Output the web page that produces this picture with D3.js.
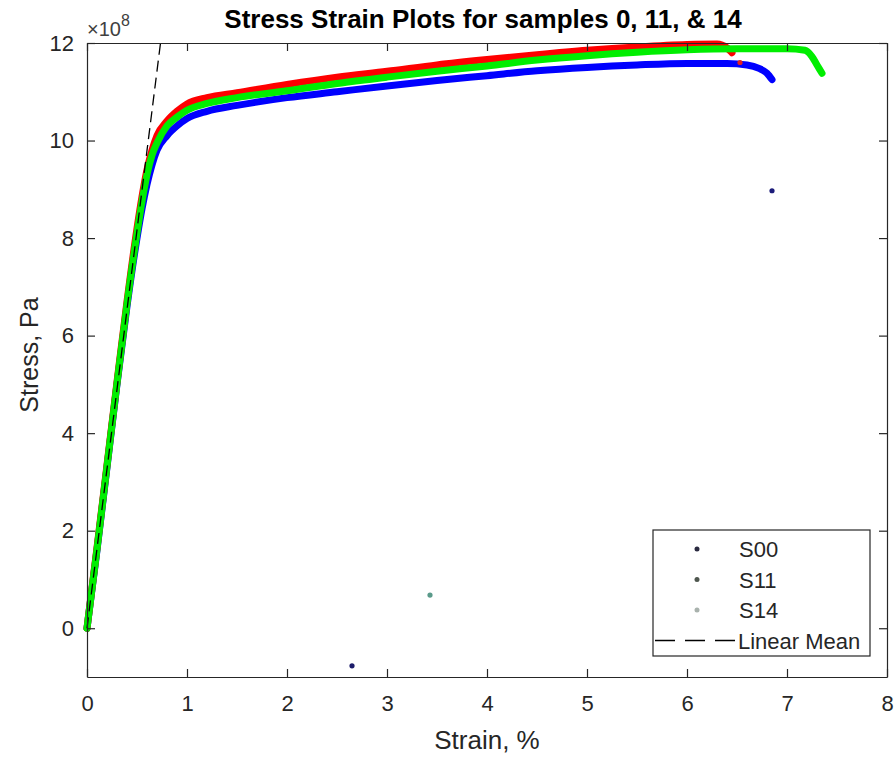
<!DOCTYPE html>
<html><head><meta charset="utf-8">
<script src="https://cdn.jsdelivr.net/npm/d3@7"></script>
<style>body{margin:0;background:#fff}svg{display:block}text{font-family:"Liberation Sans",Arial,sans-serif}</style>
</head><body>
<script>
// strain (%) and stress (x1e8 Pa)
const s00Strain = [0,0.1,0.2,0.3,0.4,0.5,0.55,0.6,0.65,0.7,0.8,0.9,1.0,1.2,1.5,2,2.5,3,3.5,4,4.5,5,5.5,6,6.4,6.6,6.72,6.8,6.85];
const s00Stress = [0,1.6,3.3,5.0,6.6,8.0,8.6,9.1,9.5,9.8,10.1,10.3,10.45,10.6,10.72,10.88,11.0,11.12,11.23,11.33,11.43,11.5,11.55,11.58,11.58,11.55,11.48,11.38,11.25];
const s11Strain = [0,0.1,0.2,0.3,0.4,0.5,0.55,0.6,0.65,0.7,0.8,0.9,1.0,1.2,1.5,2,2.5,3,3.5,4,4.5,5,5.5,6,6.3,6.4,6.45];
const s11Stress = [0,1.65,3.35,5.05,6.7,8.2,8.85,9.4,9.8,10.1,10.4,10.6,10.75,10.88,10.98,11.15,11.3,11.42,11.55,11.66,11.76,11.85,11.92,11.97,11.98,11.9,11.8];
const s14Strain = [0,0.1,0.2,0.3,0.4,0.5,0.55,0.6,0.65,0.7,0.8,0.9,1.0,1.2,1.5,2,2.5,3,3.5,4,4.5,5,5.5,6,6.5,7,7.18,7.25,7.3,7.35];
const s14Stress = [0,1.62,3.32,5.02,6.65,8.1,8.75,9.3,9.7,9.95,10.3,10.48,10.62,10.76,10.88,11.02,11.17,11.3,11.42,11.53,11.65,11.74,11.81,11.86,11.88,11.88,11.85,11.72,11.55,11.38];
const strayStrain = [6.85, 2.65, 3.43, 6.53];
const strayStress = [8.97, -0.77, 0.68, 11.6];
const strayColor = ["#1c1c7a", "#1c1c6a", "#5a9a8a", "#e02020"];
const meanStrain = [0, 0.735];
const meanStress = [0, 12];
const xTicks = [0,1,2,3,4,5,6,7,8];
const yTicks = [0,2,4,6,8,10,12];
const legendLabels = ["S00","S11","S14","Linear Mean"];
const legendColors = ["#2a2a40","#4e564e","#a9b2ad","#000"];

const W = 895, H = 757;
const m = {l:87, r:887, t:43, b:677};
const x = d3.scaleLinear().domain([0,8]).range([m.l, m.r]);
const y = d3.scaleLinear().domain([-1,12]).range([m.b, m.t]);
const svg = d3.select("body").append("svg").attr("width", W).attr("height", H);
const axisCol = "#262626";

svg.append("clipPath").attr("id","c").append("rect")
  .attr("x", m.l-4).attr("y", m.t-4).attr("width", m.r-m.l+8).attr("height", m.b-m.t+8);

const line = d3.line().x(d=>x(d[0])).y(d=>y(d[1]));
const g = svg.append("g").attr("clip-path","url(#c)");
const series = [
  [s00Strain, s00Stress, "#0000ff"],
  [s11Strain, s11Stress, "#ff0000"],
  [s14Strain, s14Stress, "#00ee00"]
];
series.forEach(([xs, ys, c]) => {
  g.append("path").datum(xs.map((v,i)=>[v, ys[i]]))
    .attr("d", line.curve(d3.curveMonotoneX)).attr("fill","none").attr("stroke", c)
    .attr("stroke-width", 7).attr("stroke-linecap","round").attr("stroke-linejoin","round");
});
strayStrain.forEach((v,i) => {
  g.append("circle").attr("cx", x(v)).attr("cy", y(strayStress[i])).attr("r", 2.6).attr("fill", strayColor[i]);
});
g.append("path").datum(meanStrain.map((v,i)=>[v, meanStress[i]]))
  .attr("d", d3.line().x(d=>x(d[0])).y(d=>y(d[1]))).attr("fill","none").attr("stroke","#000").attr("stroke-width",1.3)
  .attr("stroke-dasharray","11,6");

// axes
const fs = 22;
const xb = svg.append("g").attr("transform",`translate(0,${m.b})`)
  .call(d3.axisBottom(x).tickValues(xTicks).tickFormat(d3.format("d")).tickSizeInner(-8).tickSizeOuter(0).tickPadding(18));
const xt = svg.append("g").attr("transform",`translate(0,${m.t})`)
  .call(d3.axisTop(x).tickValues(xTicks).tickFormat("").tickSizeInner(-8).tickSizeOuter(0));
const yl = svg.append("g").attr("transform",`translate(${m.l},0)`)
  .call(d3.axisLeft(y).tickValues(yTicks).tickFormat(d3.format("d")).tickSizeInner(-8).tickSizeOuter(0).tickPadding(13));
const yr = svg.append("g").attr("transform",`translate(${m.r},0)`)
  .call(d3.axisRight(y).tickValues(yTicks).tickFormat("").tickSizeInner(-8).tickSizeOuter(0));
[xb,xt,yl,yr].forEach(a=>{
  a.selectAll("path,line").attr("stroke", axisCol).attr("stroke-width",1.2);
  a.selectAll("text").attr("fill", axisCol).style("font-size", fs+"px").style("font-family","'Liberation Sans',Arial,sans-serif");
});

// exponent
const ex = svg.append("text").attr("x", 87).attr("y", 36).attr("fill","#404040").style("font-size","20px");
ex.append("tspan").text("\u00d710");
ex.append("tspan").attr("dy",-10).style("font-size","16px").text("8");

// title & labels
svg.append("text").attr("x", 483).attr("y", 28).attr("text-anchor","middle")
  .style("font-size","26px").style("font-weight","bold").attr("fill","#000")
  .text("Stress Strain Plots for samples 0, 11, & 14");
svg.append("text").attr("x", 487).attr("y", 749).attr("text-anchor","middle")
  .style("font-size","26px").attr("fill", axisCol).text("Strain, %");
svg.append("text").attr("transform","translate(38,355) rotate(-90)").attr("text-anchor","middle")
  .style("font-size","25px").attr("fill", axisCol).text("Stress, Pa");

// legend
const lg = svg.append("g");
lg.append("rect").attr("x",653).attr("y",530).attr("width",217).attr("height",126)
  .attr("fill","#fff").attr("stroke", axisCol).attr("stroke-width",1.2);
legendLabels.forEach((lab,i)=>{
  const yy = 549 + i*30.5;
  if (i < 3) {
    lg.append("circle").attr("cx",697).attr("cy",yy).attr("r",2.5).attr("fill",legendColors[i]);
  } else {
    lg.append("line").attr("x1",655).attr("x2",737).attr("y1",yy).attr("y2",yy)
      .attr("stroke","#000").attr("stroke-width",1.3).attr("stroke-dasharray","20,10");
  }
  lg.append("text").attr("x", i<3 ? 739 : 738).attr("y", yy+8).style("font-size","22px").attr("fill", axisCol).text(lab);
});
</script>
</body></html>
